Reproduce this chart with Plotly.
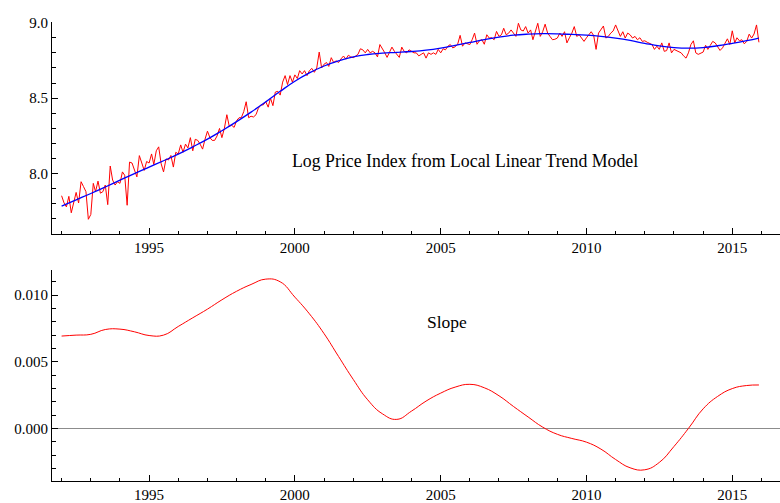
import pandas as pd
import plotly.graph_objects as go

# Monthly log price index, Jan 1992 - Dec 2015 (one row per year)
log_price = [
    7.853, 7.805, 7.779, 7.849, 7.740, 7.805, 7.875, 7.805, 7.946, 7.914, 7.880, 7.697,
    7.729, 7.935, 7.880, 7.950, 7.870, 7.880, 7.924, 7.794, 8.050, 7.957, 7.924, 7.946,
    7.935, 8.011, 7.989, 7.790, 8.076, 8.070, 8.021, 7.978, 8.119, 8.063, 8.021, 8.080,
    8.070, 8.130, 8.060, 8.151, 8.177, 8.065, 8.011, 8.097, 8.090, 8.120, 8.043, 8.141,
    8.130, 8.190, 8.141, 8.195, 8.170, 8.238, 8.151, 8.227, 8.220, 8.195, 8.162, 8.227,
    8.281, 8.238, 8.220, 8.220, 8.249, 8.299, 8.238, 8.300, 8.390, 8.314, 8.320, 8.306,
    8.351, 8.370, 8.370, 8.411, 8.476, 8.370, 8.380, 8.375, 8.390, 8.433, 8.455, 8.455,
    8.476, 8.440, 8.500, 8.450, 8.540, 8.545, 8.520, 8.606, 8.649, 8.590, 8.649, 8.606,
    8.654, 8.630, 8.682, 8.660, 8.682, 8.649, 8.682, 8.697, 8.671, 8.700, 8.805, 8.700,
    8.725, 8.736, 8.710, 8.768, 8.736, 8.747, 8.736, 8.760, 8.779, 8.758, 8.784, 8.773,
    8.768, 8.779, 8.790, 8.827, 8.820, 8.800, 8.823, 8.800, 8.810, 8.800, 8.773, 8.855,
    8.830, 8.800, 8.770, 8.800, 8.838, 8.810, 8.790, 8.770, 8.838, 8.810, 8.800, 8.820,
    8.810, 8.800, 8.800, 8.780, 8.790, 8.800, 8.765, 8.800, 8.790, 8.800, 8.790, 8.823,
    8.800, 8.827, 8.820, 8.844, 8.855, 8.833, 8.840, 8.857, 8.916, 8.844, 8.866, 8.860,
    8.855, 8.890, 8.931, 8.857, 8.880, 8.887, 8.857, 8.920, 8.898, 8.900, 8.887, 8.942,
    8.909, 8.920, 8.963, 8.920, 8.930, 8.952, 8.930, 8.909, 8.996, 8.952, 8.945, 8.974,
    8.931, 8.952, 8.887, 8.940, 8.996, 8.909, 8.940, 8.990, 8.931, 8.909, 8.887, 8.890,
    8.898, 8.931, 8.909, 8.940, 8.866, 8.900, 8.930, 8.974, 8.909, 8.920, 8.898, 8.876,
    8.900, 8.920, 8.940, 8.915, 8.823, 8.931, 8.952, 8.978, 8.898, 8.909, 8.931, 8.945,
    8.985, 8.940, 8.909, 8.940, 8.898, 8.931, 8.920, 8.898, 8.909, 8.887, 8.900, 8.876,
    8.880, 8.870, 8.862, 8.855, 8.823, 8.844, 8.823, 8.866, 8.810, 8.815, 8.866, 8.800,
    8.823, 8.816, 8.810, 8.800, 8.780, 8.765, 8.800, 8.855, 8.880, 8.800, 8.790, 8.800,
    8.805, 8.850, 8.823, 8.850, 8.876, 8.866, 8.844, 8.816, 8.833, 8.866, 8.893, 8.855,
    8.946, 8.866, 8.900, 8.880, 8.887, 8.860, 8.876, 8.924, 8.898, 8.925, 8.985, 8.870,
]

# Smoothed level and slope of the local linear trend, every half year (Jan / Jul),
# with the last state at Dec 2015
trend_level = [
    7.784, 7.826, 7.868, 7.911, 7.956, 8.000, 8.043, 8.085, 8.129, 8.177,
    8.228, 8.284, 8.344, 8.407, 8.475, 8.545, 8.612, 8.667, 8.713, 8.747,
    8.773, 8.789, 8.798, 8.803, 8.809, 8.818, 8.832, 8.850, 8.869, 8.888,
    8.904, 8.917, 8.924, 8.927, 8.926, 8.922, 8.917, 8.909, 8.897, 8.882,
    8.863, 8.846, 8.835, 8.831, 8.835, 8.847, 8.863, 8.881, 8.898,
]
trend_slope = [
    0.00693, 0.00700, 0.00706, 0.00742, 0.00745, 0.00725, 0.00697, 0.00700, 0.00765, 0.00830,
    0.00895, 0.00965, 0.01029, 0.01080, 0.01120, 0.01100, 0.00985, 0.00860, 0.00711, 0.00540,
    0.00368, 0.00215, 0.00110, 0.00068, 0.00130, 0.00205, 0.00265, 0.00310, 0.00331, 0.00305,
    0.00245, 0.00165, 0.00086, 0.00010, -0.00044, -0.00075, -0.00103, -0.00155, -0.00233, -0.00295,
    -0.00310, -0.00255, -0.00135, 0.00000, 0.00147, 0.00240, 0.00299, 0.00322, 0.00326,
]

month_dates = pd.date_range("1992-01-01", periods=len(log_price), freq="MS")
state_dates = list(pd.date_range("1992-01-01", periods=48, freq="6MS")) + [pd.Timestamp("2015-12-01")]

FONT = "Liberation Serif, Times New Roman, serif"
X_RANGE = ["1991-09-03", "2016-08-21"]

fig = go.Figure()
fig.add_trace(go.Scatter(x=month_dates, y=log_price, mode="lines",
                         line=dict(color="#ff0000", width=1), xaxis="x", yaxis="y"))
fig.add_trace(go.Scatter(x=state_dates, y=trend_level, mode="lines",
                         line=dict(color="#0000ff", width=1.3, shape="spline", smoothing=1.3),
                         xaxis="x", yaxis="y"))
fig.add_trace(go.Scatter(x=state_dates, y=trend_slope, mode="lines",
                         line=dict(color="#ff0000", width=1, shape="spline", smoothing=1.3),
                         xaxis="x2", yaxis="y2"))


def x_axis(anchor):
    return dict(
        domain=[0.0667, 1.0], anchor=anchor, type="date", range=X_RANGE,
        showline=True, linecolor="#000000", linewidth=1,
        ticks="inside", ticklen=6, tickcolor="#000000", tickwidth=1,
        tick0="1995-01-01", dtick="M60", tickformat="%Y",
        minor=dict(dtick="M12", tick0="1992-01-01", ticks="inside", ticklen=3.5,
                   tickcolor="#000000", tickwidth=1, showgrid=False),
        showgrid=False, zeroline=False,
        tickfont=dict(family=FONT, size=15, color="#000000"),
    )


def y_axis(anchor, domain, rng, tick0, dtick, minor, fmt, zero):
    return dict(
        domain=domain, anchor=anchor, range=rng,
        showline=True, linecolor="#000000", linewidth=1,
        ticks="inside", ticklen=6, tickcolor="#000000", tickwidth=1,
        tick0=tick0, dtick=dtick, tickformat=fmt,
        minor=dict(dtick=minor, tick0=tick0, ticks="inside", ticklen=3.5,
                   tickcolor="#000000", tickwidth=1, showgrid=False),
        showgrid=False, zeroline=zero, zerolinecolor="#8c8c8c", zerolinewidth=1,
        tickfont=dict(family=FONT, size=15, color="#000000"),
    )


fig.update_layout(
    width=780, height=503,
    margin=dict(l=0, r=0, t=0, b=0),
    paper_bgcolor="white", plot_bgcolor="white",
    showlegend=False,
    xaxis=x_axis("y"),
    yaxis=y_axis("x", [0.5388, 0.9702], [7.597, 9.0065], 8.0, 0.5, 0.1, ".1f", False),
    xaxis2=x_axis("y2"),
    yaxis2=y_axis("x2", [0.0378, 0.4672], [-0.00397, 0.01191], 0.0, 0.005, 0.001, ".3f", True),
    annotations=[
        dict(text="Log Price Index from Local Linear Trend Model", x="2005-11-03", y=8.085,
             xref="x", yref="y", showarrow=False,
             font=dict(family=FONT, size=17.8, color="#000000")),
        dict(text="Slope", x="2005-03-20", y=0.00802, xref="x2", yref="y2", showarrow=False,
             font=dict(family=FONT, size=17.5, color="#000000")),
    ],
)

fig.write_html("out.html")
